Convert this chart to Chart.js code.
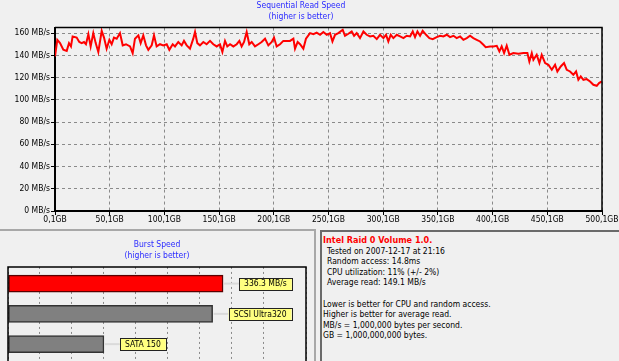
<!DOCTYPE html>
<html>
<head>
<meta charset="utf-8">
<script src="https://cdn.jsdelivr.net/npm/chart.js@4.4.1/dist/chart.umd.min.js"></script>
<style>
body{margin:0;background:#f0f0f0;width:619px;height:361px;overflow:hidden;position:relative;font-family:'DejaVu Sans Condensed','Liberation Sans',Arial,sans-serif;}
#topBox{position:absolute;left:0;top:0;width:619px;height:228px;}
#sepL{position:absolute;left:0;top:229px;width:315px;height:2px;background:#a8a8a8;}
#sepV{position:absolute;left:314px;top:229px;width:2px;height:132px;background:#a8a8a8;}
#burstBox{position:absolute;left:0;top:232px;width:314px;height:129px;overflow:hidden;}
#info{position:absolute;left:320px;top:230px;width:299px;height:131px;box-sizing:border-box;border-left:2px solid #6a6a6a;border-top:2px solid #6a6a6a;padding:3px 0 0 1px;font-size:8.5px;line-height:10.6px;color:#000;}
#info .t{color:#ff0000;font-weight:bold;font-size:9px;}
#info .i{padding-left:4px;}
</style>
</head>
<body>
<div id="topBox"><canvas id="readChart" width="619" height="228"></canvas></div>
<div id="sepL"></div><div id="sepV"></div>
<div id="burstBox"><canvas id="burstChart" width="314" height="156"></canvas></div>
<div id="info"></div>
<script>
// sequential read, position on disk (GB) and speed (MB/s)
const gbPos = [0.1,2.2,4.7,7.7,10.8,12.9,14.7,16.2,19.9,22.3,24.5,26.6,28.4,30.6,32.7,35.1,37.3,39.7,42.8,44.9,
47.3,49.8,51.9,54.0,56.5,59.5,62.0,65.0,68.7,71.1,73.2,76.3,78.4,80.8,83.3,85.4,88.5,90.6,93.0,96.1,
99.1,102.2,104.6,107.7,109.8,112.8,115.9,118.0,120.5,123.5,126.5,128.1,130.2,132.6,135.7,138.7,141.8,144.8,147.9,150.9,
153.1,155.5,157.6,160.1,163.1,166.2,168.6,170.7,172.9,175.3,177.7,179.9,182.9,186.0,189.0,192.1,195.1,198.2,200.3,202.7,
205.8,208.8,211.9,214.9,218.0,219.5,221.9,224.1,227.1,229.5,233.2,236.3,239.3,242.4,245.4,248.5,251.5,253.7,256.1,259.1,
263.1,265.2,268.3,271.3,273.5,275.9,278.9,282.0,285.0,288.1,291.1,294.2,297.2,300.3,302.7,304.8,307.0,309.4,312.5,315.5,
318.6,321.6,324.7,327.1,329.2,331.4,333.8,336.2,339.3,342.3,345.4,349.0,352.1,355.1,358.2,361.2,364.3,367.3,370.4,373.4,
376.5,379.5,382.5,385.6,388.6,391.7,393.8,397.8,400.8,403.9,406.3,408.4,410.6,413.0,415.5,419.1,423.7,428.3,431.9,433.7,
435.9,437.4,440.4,442.9,445.0,448.1,451.1,454.2,457.2,459.3,462.4,465.4,467.9,470.9,473.9,476.4,478.5,480.7,483.1,486.1,
489.2,492.2,495.3,497.4,499.9];
const readSpeed = [139,154,151,145,144,151,148,157,156,152,151,152,150,159,148,160,151,143,162,156,
146,154,150,156,155,160,149,150,148,142,155,158,151,158,149,145,149,158,148,150,
149,150,145,150,148,152,149,153,149,146,155,161,151,149,152,150,153,150,148,150,
143,153,148,150,148,150,153,148,152,161,150,152,148,150,152,155,149,152,156,148,
150,153,153,153,155,146,152,150,146,155,160,159,160.5,158.5,161,158.5,160,152.5,158.5,160,
163,157.6,159.4,161.5,157.6,160,155.5,161.5,158.5,157,157.6,154.6,158.5,155.5,158.5,152.5,158.5,155.5,158.5,157,
155.5,157.6,157,161.5,156.4,161.5,157.6,162.1,158.5,155.5,154.6,156.4,157.6,157,158.5,156.4,157.6,155.5,157,154,
155.5,157.6,155.5,154,152.5,149.5,147.4,148,148,148.6,143.5,148,142,148.6,140.5,142,141.4,142,142,134.5,
142,136,140.5,133,140.5,133,131.5,127,131.5,125.5,130,133,127,125.5,122.5,125.5,118,121,118,118.6,
116.5,113.5,112.6,115,116.5];
const gbTicks = [0.1,50.1,100.1,150.1,200.1,250.1,300.1,350.1,400.1,450.1,500.1];
const speedTicks = [0,20,40,60,80,100,120,140,160];

// burst speed
const burstNames = ['336.3 MB/s','SCSI Ultra320','SATA 150'];
const burstValues = [336.3,320,150];
const burstColors = ['#ff0000','#808080','#808080'];

const infoTitle = 'Intel Raid 0 Volume 1.0.';
const infoStats = ['Tested on 2007-12-17 at 21:16','Random access: 14.8ms','CPU utilization: 11% (+/- 2%)','Average read: 149.1 MB/s'];
const infoNotes = ['Lower is better for CPU and random access.','Higher is better for average read.','MB/s = 1,000,000 bytes per second.','GB = 1,000,000,000 bytes.'];

const FAMILY = "'DejaVu Sans Condensed', 'Liberation Sans', Arial, sans-serif";
const FONT = {family:FAMILY, size:8.5};
const BLUE = '#2a2aff';

const frame = {
  id:'frame',
  afterDraw(chart, args, opts){
    const a = chart.chartArea, c = chart.ctx;
    c.save();
    c.strokeStyle = '#000';
    c.lineWidth = opts.width || 1;
    c.beginPath();
    if(opts.left){ c.moveTo(a.left, chart.height); c.lineTo(a.left, a.top); }
    else c.moveTo(a.left, a.top);
    c.lineTo(a.right, a.top);
    c.lineTo(a.right, opts.left ? chart.height : a.bottom);
    c.stroke();
    c.restore();
  }
};

new Chart(document.getElementById('readChart'), {
  type:'line',
  data:{
    datasets:[{
      data: gbPos.map((g,i)=>({x:g, y:readSpeed[i]})),
      borderColor:'#ff0000', borderWidth:2, pointRadius:0, tension:0, fill:false
    }]
  },
  options:{
    responsive:false, animation:false,
    layout:{padding:{left:0,right:17,top:0,bottom:0}},
    plugins:{
      legend:{display:false}, tooltip:{enabled:false},
      title:{display:true, text:['Sequential Read Speed','(higher is better)'], color:BLUE,
        font:{...FONT, weight:'normal', lineHeight:1.35}, padding:{top:0,bottom:4.6}},
      frame:{width:1.5}
    },
    scales:{
      x:{type:'linear', min:0.1, max:500.1,
        afterBuildTicks:s=>{ s.ticks = gbTicks.map(v=>({value:v})); },
        afterFit:s=>{ s.height = 17; },
        ticks:{autoSkip:false, maxRotation:0, padding:0, color:'#000', font:FONT,
          callback:v=>String(v).replace('.',',')+'GB'},
        grid:{color:'#8a8a8a', tickColor:'#000', tickLength:4},
        border:{color:'#000', width:2, dash:[3,3]}
      },
      y:{min:0, max:165,
        afterBuildTicks:s=>{ s.ticks = speedTicks.map(v=>({value:v})); },
        afterFit:s=>{ s.width = 55; },
        ticks:{padding:1, color:'#000', font:FONT, callback:v=>v+' MB/s'},
        grid:{color:'#8a8a8a', tickColor:'#000', tickLength:4},
        border:{color:'#000', width:2, dash:[3,3]}
      }
    }
  },
  plugins:[frame]
});

const burstTags = {
  id:'burstTags',
  afterDatasetsDraw(chart){
    const c = chart.ctx, meta = chart.getDatasetMeta(0);
    c.save();
    c.font = '8.5px ' + FAMILY;
    c.textBaseline = 'middle';
    meta.data.forEach((bar,i)=>{
      const txt = burstNames[i];
      const w = c.measureText(txt).width + 10, h = 12;
      const x0 = bar.x + 16, y0 = Math.round(bar.y - h/2) + 0.5;
      c.strokeStyle = '#dadada'; c.lineWidth = 2;
      c.beginPath(); c.moveTo(bar.x + 1, bar.y); c.lineTo(x0, bar.y); c.stroke();
      c.fillStyle = '#ffff80';
      c.fillRect(x0, y0, w, h);
      c.strokeStyle = '#222'; c.lineWidth = 1;
      c.strokeRect(Math.round(x0)+0.5, y0, Math.round(w), h);
      c.fillStyle = '#000';
      c.fillText(txt, x0 + 5, bar.y + 0.5);
    });
    c.restore();
  }
};

new Chart(document.getElementById('burstChart'), {
  type:'bar',
  data:{
    datasets:[{
      data: burstValues.map((v,i)=>({x:v, y:i})), backgroundColor: burstColors,
      borderColor:['#5a0000','#333','#333'], borderWidth:1.5, borderSkipped:false,
      barThickness:17
    }]
  },
  options:{
    indexAxis:'y', responsive:false, animation:false,
    layout:{padding:{left:8,right:8,top:0,bottom:0}},
    plugins:{
      legend:{display:false}, tooltip:{enabled:false},
      title:{display:true, text:['Burst Speed','(higher is better)'], color:BLUE,
        font:{...FONT, weight:'normal', lineHeight:1.35}, padding:{top:7,bottom:5}},
      frame:{width:1.5, left:true}
    },
    scales:{
      x:{type:'linear', min:0, max:466, offset:false,
        afterFit:s=>{ s.height = 0; },
        ticks:{display:false, stepSize:50},
        grid:{color:'#8a8a8a', drawTicks:false, offset:false},
        border:{display:false, dash:[2,3]}
      },
      y:{type:'linear', min:-0.55, max:3.45, reverse:true, offset:false,
        afterFit:s=>{ s.width = 0; },
        ticks:{display:false},
        grid:{display:false, offset:false},
        border:{display:false}
      }
    }
  },
  plugins:[frame, burstTags]
});

const info = document.getElementById('info');
let html = '<div class="t">'+infoTitle+'</div>';
infoStats.forEach(t=>{ html += '<div class="i">'+t+'</div>'; });
html += '<div>&nbsp;</div>';
infoNotes.forEach(t=>{ html += '<div>'+t+'</div>'; });
info.innerHTML = html;
</script>
</body>
</html>
